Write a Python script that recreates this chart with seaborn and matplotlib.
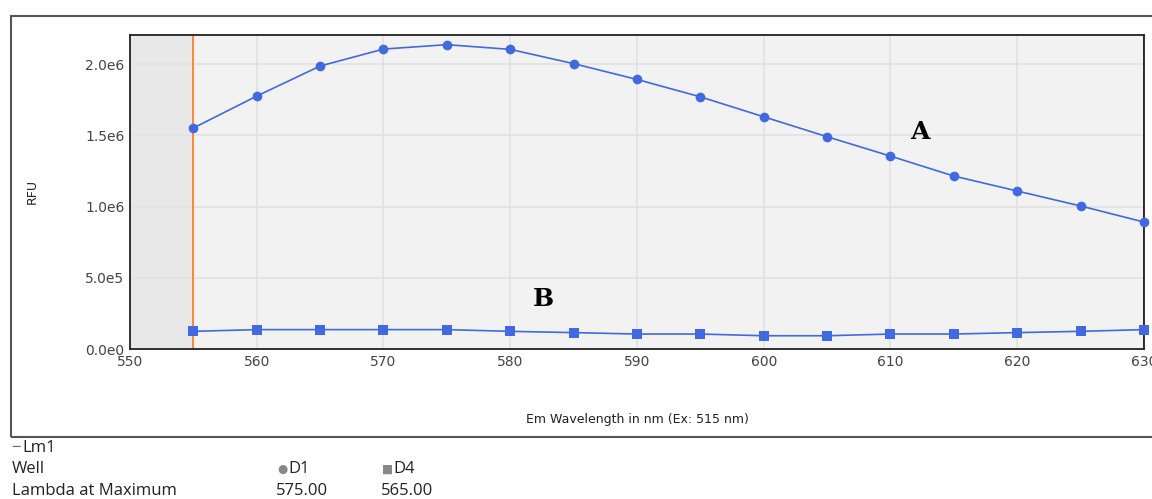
import numpy as np
import pandas as pd
import matplotlib
matplotlib.use("Agg")
import matplotlib.pyplot as plt
import seaborn as sns
from matplotlib.patches import Rectangle

# 데이터
wavelength = [555, 560, 565, 570, 575, 580, 585, 590, 595, 600, 605, 610, 615, 620, 625, 630]
rfu_d1 = [1.551e6, 1.775e6, 1.986e6, 2.105e6, 2.136e6, 2.103e6, 2.003e6, 1.892e6,
          1.770e6, 1.630e6, 1.490e6, 1.354e6, 1.214e6, 1.109e6, 1.004e6, 0.891e6]
rfu_d4 = [0.124e6, 0.136e6, 0.136e6, 0.136e6, 0.136e6, 0.124e6, 0.115e6, 0.105e6,
          0.105e6, 0.093e6, 0.093e6, 0.105e6, 0.105e6, 0.115e6, 0.124e6, 0.136e6]
x_ticks = [550, 560, 570, 580, 590, 600, 610, 620, 630]
y_ticks = [0, 5e5, 1e6, 1.5e6, 2e6]
y_tick_labels = ["0.0e0", "5.0e5", "1.0e6", "1.5e6", "2.0e6"]
wells = ["D1", "D4"]
lambda_max = ["575.00", "565.00"]

df = pd.DataFrame({
    "wl": wavelength * 2,
    "rfu": rfu_d1 + rfu_d4,
    "well": ["D1"] * len(wavelength) + ["D4"] * len(wavelength),
})

sns.set_style("white")
plt.rcParams["font.family"] = ["DejaVu Sans"]

fig = plt.figure(figsize=(11.52, 4.99), dpi=100)

# 바깥 테두리
fig.patches.append(Rectangle((0.0095, 0.124), 1.02, 0.844, transform=fig.transFigure,
                             fill=False, edgecolor="#555555", linewidth=1.5))

ax = fig.add_axes([0.1128, 0.3006, 0.8802, 0.6293])
ax.set_facecolor("#f2f2f2")
ax.axvspan(550, 555, color="#e8e8e8", zorder=0)
ax.grid(True, color="#e2e2e2", linewidth=1.2, zorder=0)
ax.set_axisbelow(True)

blue = "#4169e1"
sns.lineplot(data=df, x="wl", y="rfu", style="well", markers={"D1": "o", "D4": "s"},
             dashes=False, color=blue, linewidth=1.2, markersize=7,
             markeredgewidth=0, legend=False, ax=ax, clip_on=False, zorder=3)

ax.axvline(555, color="#ff7f27", linewidth=1.3, zorder=2)
ax.axvline(630, color="#e84c00", linewidth=2, zorder=2)

ax.set_xlim(550, 630)
ax.set_ylim(0, 2.204e6)
ax.set_xticks(x_ticks)
ax.set_yticks(y_ticks)
ax.set_yticklabels(y_tick_labels)
ax.tick_params(length=0, labelsize=10, labelcolor="#444444", pad=4)
for s in ax.spines.values():
    s.set_color("#222222")
    s.set_linewidth(1.3)

ax.set_xlabel("Em Wavelength in nm (Ex: 515 nm)", fontsize=9, color="#222222", labelpad=32)
ax.set_ylabel("RFU", fontsize=9, color="#222222", labelpad=33)

ax.text(612.3, 1.52e6, "A", family="DejaVu Serif", fontweight="bold", fontsize=18,
        ha="center", va="center", color="black")
ax.text(582.6, 0.353e6, "B", family="DejaVu Serif", fontweight="bold", fontsize=18,
        ha="center", va="center", color="black")

# 아래쪽 표
fam = ["Open Sans", "DejaVu Sans"]
fs = 12
fig.text(0.010, 1 - 448 / 499, "\u2212", color=blue, fontsize=fs, family=fam, va="center")
fig.text(0.019, 1 - 448 / 499, "Lm1", color="#222222", fontsize=fs, family=fam, va="center")
fig.text(0.010, 1 - 469 / 499, "Well", color="#222222", fontsize=fs, family=fam, va="center")
fig.text(0.010, 1 - 491 / 499, "Lambda at Maximum", color="#222222", fontsize=fs, family=fam, va="center")
col_x = [277 / 1152, 382 / 1152]
symbols = ["\u25cf", "\u25a0"]
for cx, sym, w, lm in zip(col_x, symbols, wells, lambda_max):
    fig.text(cx, 1 - 469 / 499, sym, color="#888888", fontsize=fs - 3.5, family=fam, va="center")
    fig.text(cx + 0.0095, 1 - 469 / 499, w, color="#222222", fontsize=fs, family=fam, va="center")
    fig.text(cx - 0.001, 1 - 491 / 499, lm, color="#222222", fontsize=fs, family=fam, va="center")

fig.savefig("out.png", dpi=100)
